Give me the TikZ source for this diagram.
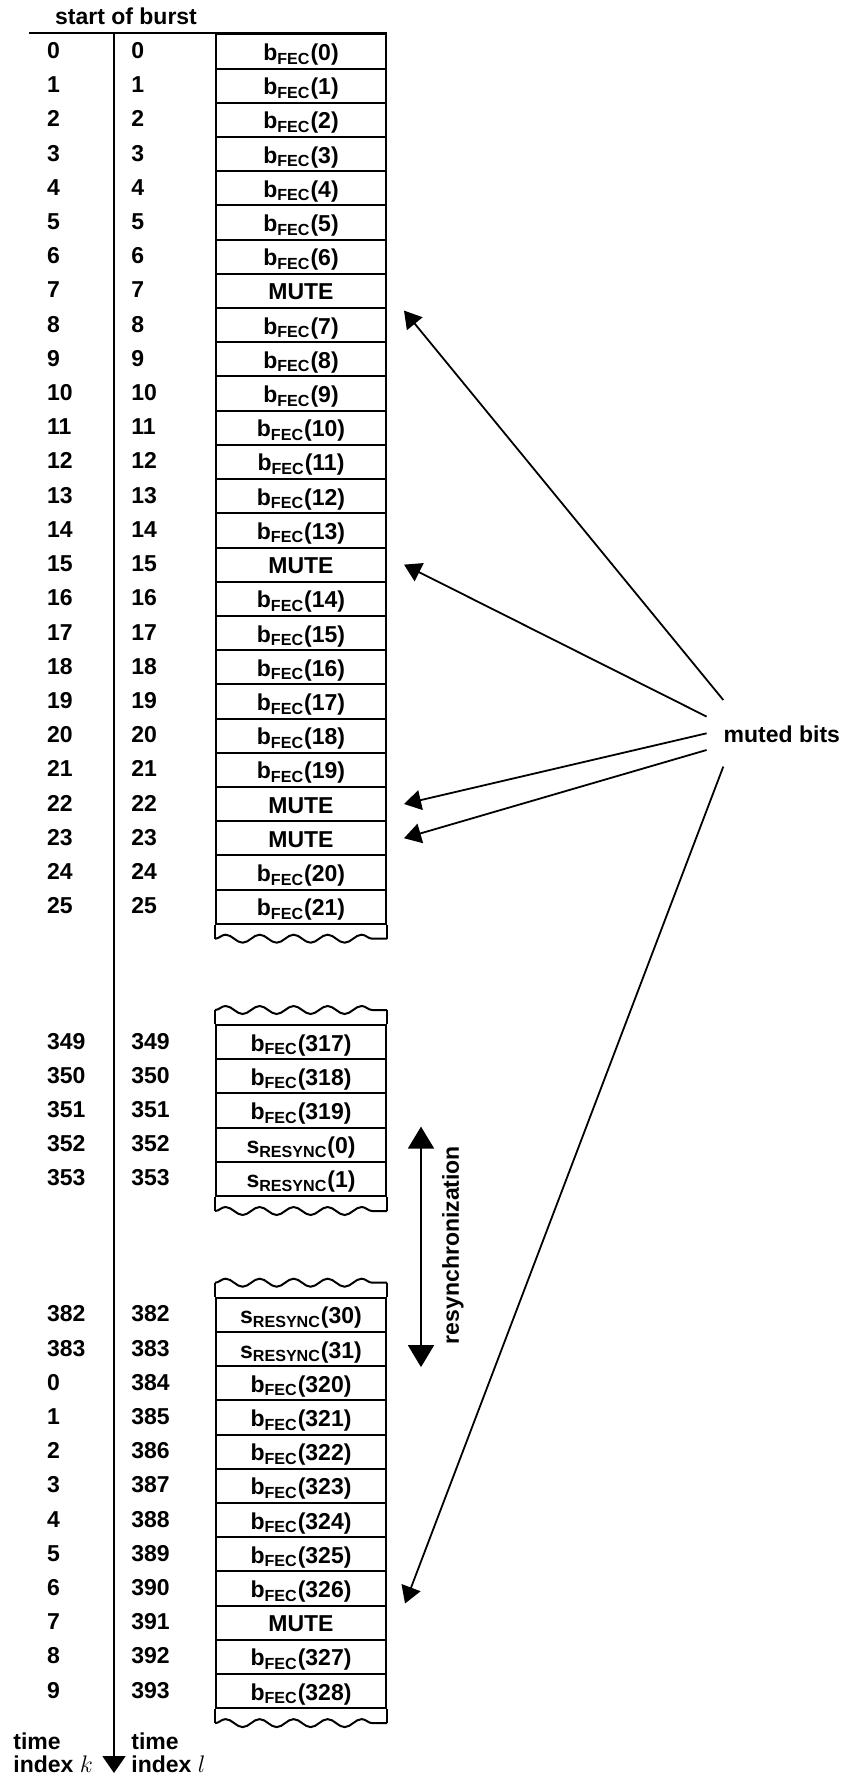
\documentclass[tikz,border=0pt]{standalone}
\usepackage{fontspec}
\setmainfont{Liberation Sans}
\usetikzlibrary{arrows.meta, positioning, decorations.pathmorphing}

\newcommand{\bfec}[1]{b\textsubscript{FEC}(#1)}
\newcommand{\sresync}[1]{s\textsubscript{RESYNC}(#1)}

\begin{document}
\begin{tikzpicture}[
        x=0.5pt, y=-0.5pt,
        cell/.style={rectangle, draw, line width=1pt, anchor=north west, minimum width=85pt, minimum height=17.1pt, inner sep=0pt, text height=9pt, text depth=0pt, font=\fontsize{11.5}{13}\selectfont\bfseries},
        idx/.style={anchor=west, inner sep=0pt, text height=8pt, text depth=0pt, font=\fontsize{11.5}{13}\selectfont\bfseries},
        lbl/.style={inner sep=0pt, align=left, font=\fontsize{11.5}{11.5}\selectfont\bfseries},
        edge/.style={line width=1pt},
        wave/.style={line width=1pt, decorate, decoration={snake, segment length=17pt, amplitude=2pt}},
        arrow/.style={-{Triangle[length=8.5pt, width=10pt]}, line width=0.9pt},
        dblarrow/.style={{Triangle[length=11pt, width=13pt]}-{Triangle[length=11pt, width=13pt]}, line width=0.9pt},
        timeline/.style={-{Triangle[length=8.5pt, width=11.5pt]}, line width=1pt}
    ]
        \useasboundingbox (0,0) rectangle (844,1780);

        % first block, k = l
        \foreach \l/\txt [count=\r from 0] in {0/\bfec{0}, 1/\bfec{1}, 2/\bfec{2}, 3/\bfec{3}, 4/\bfec{4}, 5/\bfec{5}, 6/\bfec{6}, 7/MUTE,
                8/\bfec{7}, 9/\bfec{8}, 10/\bfec{9}, 11/\bfec{10}, 12/\bfec{11}, 13/\bfec{12}, 14/\bfec{13}, 15/MUTE,
                16/\bfec{14}, 17/\bfec{15}, 18/\bfec{16}, 19/\bfec{17}, 20/\bfec{18}, 21/\bfec{19}, 22/MUTE, 23/MUTE,
                24/\bfec{20}, 25/\bfec{21}} {
            \node[cell] (cell\l) at (215, {33.5+34.2*\r}) {\txt};
            \node[idx] (k\l) at (46.7, {50.6+34.2*\r}) {\l};
            \node[idx] (l\l) at (131, {50.6+34.2*\r}) {\l};
        }

        % second block
        \foreach \l/\txt [count=\r from 0] in {349/\bfec{317}, 350/\bfec{318}, 351/\bfec{319}, 352/\sresync{0}, 353/\sresync{1}} {
            \node[cell] (cell\l) at (215, {1024+34.2*\r}) {\txt};
            \node[idx] (k\l) at (46.7, {1041.1+34.2*\r}) {\l};
            \node[idx] (l\l) at (131, {1041.1+34.2*\r}) {\l};
        }

        % third block
        \foreach \k/\l/\txt [count=\r from 0] in {382/382/\sresync{30}, 383/383/\sresync{31}, 0/384/\bfec{320}, 1/385/\bfec{321},
                2/386/\bfec{322}, 3/387/\bfec{323}, 4/388/\bfec{324}, 5/389/\bfec{325}, 6/390/\bfec{326}, 7/391/MUTE,
                8/392/\bfec{327}, 9/393/\bfec{328}} {
            \node[cell] (cell\l) at (215, {1296.7+34.2*\r}) {\txt};
            \node[idx] (k\l) at (46.7, {1313.8+34.2*\r}) {\k};
            \node[idx] (l\l) at (131, {1313.8+34.2*\r}) {\l};
        }

        % torn ends
        \draw[edge] (cell25.south west) -- ++(0,14) coordinate (w1a) (cell25.south east) -- ++(0,14) coordinate (w1b);
        \draw[wave] (w1a) -- (w1b);
        \draw[edge] (cell349.north west) -- ++(0,-14) coordinate (w2a) (cell349.north east) -- ++(0,-14) coordinate (w2b);
        \draw[wave] (w2a) -- (w2b);
        \draw[edge] (cell353.south west) -- ++(0,14) coordinate (w3a) (cell353.south east) -- ++(0,14) coordinate (w3b);
        \draw[wave] (w3a) -- (w3b);
        \draw[edge] (cell382.north west) -- ++(0,-14) coordinate (w4a) (cell382.north east) -- ++(0,-14) coordinate (w4b);
        \draw[wave] (w4a) -- (w4b);
        \draw[edge] (cell393.south west) -- ++(0,14) coordinate (w5a) (cell393.south east) -- ++(0,14) coordinate (w5b);
        \draw[wave] (w5a) -- (w5b);

        \coordinate (topleft) at (29,33.5);
        \coordinate (axtop) at (114,33.5);
        \coordinate (axend) at (114,1773);
        \draw[edge] (topleft) -- (cell0.north east);
        \draw[timeline] (axtop) -- (axend);

        \node[lbl, anchor=base] (start) at (126,25) {start of burst};
        \node[lbl, anchor=north west] (timek) at (13,1732) {time\\index $k$};
        \node[lbl, anchor=north west] (timel) at (131,1732) {time\\index $l$};

        \node[idx, text height=9pt] (muted) at (723.3,733.3) {muted bits};
        \draw[arrow] ([shift={(0,-33.3)}]muted.west) -- ([shift={(17,1.5)}]cell7.south east);
        \draw[arrow] ([shift={(-16.7,-16.7)}]muted.west) -- ([shift={(17,0)}]cell15.east);
        \draw[arrow] ([shift={(-16.7,0)}]muted.west) -- ([shift={(17,0)}]cell22.east);
        \draw[arrow] ([shift={(-16.7,16.7)}]muted.west) -- ([shift={(17,0)}]cell23.east);
        \draw[arrow] ([shift={(0,33.3)}]muted.west) -- ([shift={(18,-1)}]cell391.north east);

        \draw[dblarrow] ([shift={(34,0)}]cell352.north east) -- ([shift={(34,0)}]cell383.south east);
        \node[lbl, rotate=90] (resync) at (453,1245) {resynchronization};
    \end{tikzpicture}
\end{document}
